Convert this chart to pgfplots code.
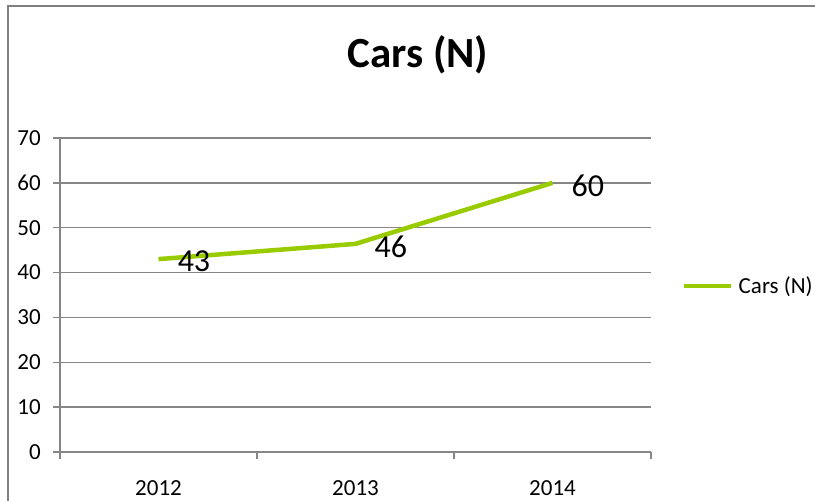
\documentclass[border=0pt]{standalone}
\usepackage{pgfplots}
\pgfplotsset{compat=1.18}
\usepackage{pgfplotstable}
\usepackage{fontspec}
\setmainfont{Carlito}
\definecolor{linegreen}{RGB}{153,204,0}
\definecolor{gridgray}{RGB}{134,134,134}
\definecolor{framegray}{RGB}{128,128,128}

\pgfplotstableread{
x y lab
0 43.0 43
1 46.4 46
2 60.0 60
}\carsdata

\begin{document}
\begin{tikzpicture}[x=1pt,y=1pt]
\useasboundingbox (0,0) rectangle (815,501);
% chart frame (only left and top edges visible)
\draw[framegray, line width=2pt] (8,0) -- (8,494.5) -- (815,494.5);
\node[font=\fontsize{43}{43}\selectfont\bfseries] at (418,446) {Cars (N)};
\begin{axis}[
  scale only axis,
  width=591pt, height=314pt,
  at={(60pt,49pt)}, anchor=south west,
  xmin=-0.5, xmax=2.5,
  ymin=0, ymax=70,
  ytick={0,10,...,70},
  xtick={-0.5,0.5,1.5,2.5},
  xticklabels={2012,2013,2014},
  x tick label as interval,
  axis lines*=left,
  axis line style={gridgray, line width=1.3pt},
  tick style={gridgray, line width=1.3pt},
  tick align=outside,
  major tick length=7pt,
  ymajorgrids,
  grid style={gridgray, line width=1.3pt},
  /pgf/number format/assume math mode=true,
  tick label style={font=\fontsize{23}{23}\selectfont},
  yticklabel style={anchor=east, inner sep=0pt, xshift=-12pt},
  xticklabel style={anchor=north, inner sep=0pt, yshift=-21pt},
  clip=false,
  legend style={at={(1.0525,0.5287)}, anchor=west, draw=none, fill=none,
    inner sep=0pt, font=\fontsize{23}{23}\selectfont,
    nodes={inner sep=0pt, anchor=west},
    /tikz/every odd column/.append style={column sep=5pt}},
  legend image code/.code={\draw[linegreen, line width=4.5pt] (0pt,0pt) -- (47pt,0pt);},
]
\addplot[linegreen, line width=4.5pt, line join=round,
  point meta=explicit symbolic,
  nodes near coords,
  every node near coord/.style={anchor=west, inner sep=0pt, xshift=17pt, yshift=-2.5pt,
    font=\fontsize{32}{32}\selectfont, text=black},
] table[x=x, y=y, meta=lab] {\carsdata};
\addlegendentry{Cars (N)}
\end{axis}
\end{tikzpicture}
\end{document}
